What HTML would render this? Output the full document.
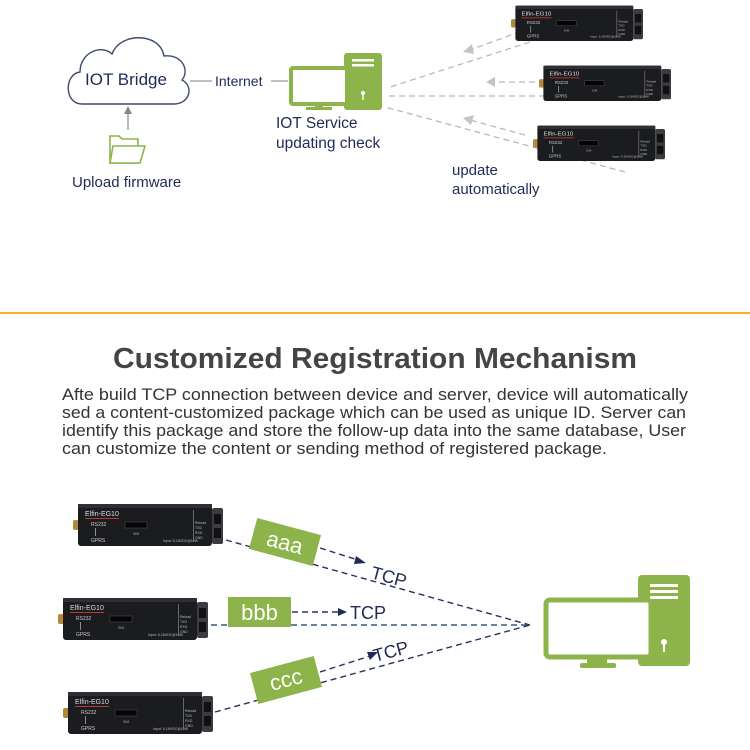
<!DOCTYPE html>
<html><head><meta charset="utf-8"><style>
html,body{margin:0;padding:0;background:#fff;width:750px;height:750px;overflow:hidden}
svg{display:block}
text{font-family:"Liberation Sans",Arial,sans-serif}
</style></head><body>
<svg width="750" height="750" viewBox="0 0 750 750" xmlns="http://www.w3.org/2000/svg">
<defs>
<g id="dev">
  <rect x="0" y="18" width="6" height="10" rx="2" fill="#b08a3a"/>
  <rect x="5" y="2" width="134" height="42" rx="3" fill="#1b1c20"/>
  <rect x="5" y="2" width="134" height="4" fill="#2e3036"/>
  <rect x="139" y="6" width="11" height="36" rx="2" fill="#3a3c42"/>
  <rect x="141" y="12" width="7" height="10" fill="#111"/>
  <rect x="141" y="26" width="7" height="10" fill="#111"/>
  <text x="12" y="14" font-size="7" fill="#ddd">Elfin-EG10</text>
  <rect x="12" y="16" width="34" height="1" fill="#c0392b"/>
  <text x="18" y="24" font-size="5" fill="#ccc">RS232</text>
  <rect x="22" y="26" width="0.8" height="8" fill="#aaa"/>
  <text x="18" y="40" font-size="5" fill="#ccc">GPRS</text>
  <rect x="52" y="20" width="22" height="6" fill="#050505" stroke="#555" stroke-width="0.5"/>
  <text x="60" y="33" font-size="3.5" fill="#aaa">SIM</text>
  <text x="90" y="40" font-size="3.5" fill="#bbb">Input: 5-18VDC@10W</text>
  <rect x="120" y="8" width="0.6" height="32" fill="#999"/>
  <text x="122" y="22" font-size="3.5" fill="#bbb">Reload</text>
  <text x="122" y="27" font-size="3.5" fill="#bbb">TXD</text>
  <text x="122" y="32" font-size="3.5" fill="#bbb">RXD</text>
  <text x="122" y="37" font-size="3.5" fill="#bbb">GND</text>
</g>
</defs>

<!-- TOP SECTION -->
<path d="M82,104 C64,104 64,74 80,72 C80,52 102,44 112,54 C120,32 160,32 164,56 C182,54 190,70 182,80 C194,86 190,104 174,104 Z" fill="#fff" stroke="#3d4a6b" stroke-width="1.4"/>
<text x="126" y="85" font-size="17" fill="#1f2a55" text-anchor="middle">IOT Bridge</text>
<line x1="190" y1="81" x2="212" y2="81" stroke="#999" stroke-width="1.2"/>
<text x="215" y="86" font-size="14" fill="#1f2a55">Internet</text>
<line x1="271" y1="81" x2="288" y2="81" stroke="#999" stroke-width="1.2"/>
<rect x="344" y="53" width="38" height="57" rx="3" fill="#8db34b"/>
<rect x="352" y="59" width="22" height="2.5" fill="#fff"/>
<rect x="352" y="64" width="22" height="2.5" fill="#fff"/>
<circle cx="363" cy="93" r="2" fill="#fff"/><rect x="362.3" y="93" width="1.4" height="7" fill="#fff"/>
<rect x="291" y="68" width="56" height="36" rx="2" fill="#fff" stroke="#8db34b" stroke-width="4"/>
<rect x="315" y="104" width="8" height="4" fill="#8db34b"/>
<rect x="306" y="107" width="26" height="3" fill="#8db34b"/>
<text x="276" y="128" font-size="15.5" fill="#1f2a55">IOT Service</text>
<text x="276" y="148" font-size="15.5" fill="#1f2a55">updating check</text>
<line x1="128" y1="130" x2="128" y2="112" stroke="#888" stroke-width="1.2"/>
<path d="M124,114 L128,106 L132,114 Z" fill="#888"/>
<path d="M110,136 L119,136 L122,139 L138,139 L138,163 L110,163 Z" fill="#fff" stroke="#8db34b" stroke-width="1.6"/>
<path d="M110,163 L113,146 L145,146 L140,163 Z" fill="#fff" stroke="#8db34b" stroke-width="1.6"/>
<text x="72" y="187" font-size="15" fill="#1f2a55">Upload firmware</text>
<g stroke="#b8b8b8" stroke-width="1.3" stroke-dasharray="6,4" fill="none">
  <line x1="530" y1="28" x2="470" y2="50"/>
  <line x1="530" y1="42" x2="387" y2="88"/>
  <line x1="545" y1="82" x2="492" y2="82"/>
  <line x1="545" y1="96" x2="385" y2="96"/>
  <line x1="525" y1="135" x2="470" y2="120"/>
  <line x1="625" y1="172" x2="385" y2="107"/>
</g>
<path d="M463,52 L472,44 L474,54 Z" fill="#c4c4c4"/>
<path d="M486,82 L495,77 L495,87 Z" fill="#c4c4c4"/>
<path d="M463,118 L474,115 L471,125 Z" fill="#c4c4c4"/>
<use href="#dev" transform="translate(511,4) scale(0.88,0.84)"/>
<use href="#dev" transform="translate(539,64) scale(0.88,0.84)"/>
<use href="#dev" transform="translate(533,124) scale(0.88,0.84)"/>
<text x="452" y="175" font-size="15" fill="#1f2a55">update</text>
<text x="452" y="194" font-size="15" fill="#1f2a55">automatically</text>

<rect x="0" y="312" width="750" height="2" fill="#f0b323"/>

<text x="375" y="368" font-size="28.5" font-weight="bold" fill="#444" text-anchor="middle" textLength="524" lengthAdjust="spacingAndGlyphs">Customized Registration Mechanism</text>
<g font-size="16.5" fill="#333">
<text x="62" y="400" textLength="626" lengthAdjust="spacingAndGlyphs">Afte build TCP connection between device and server, device will automatically</text>
<text x="62" y="418" textLength="624" lengthAdjust="spacingAndGlyphs">sed a content-customized package which can be used as unique ID. Server can</text>
<text x="62" y="436" textLength="624" lengthAdjust="spacingAndGlyphs">identify this package and store the follow-up data into the same database, User</text>
<text x="62" y="454" textLength="545" lengthAdjust="spacingAndGlyphs">can customize the content or sending method of registered package.</text>
</g>

<g stroke="#2a3060" stroke-width="1.4" stroke-dasharray="6,4" fill="none">
  <line x1="226" y1="540" x2="530" y2="625"/>
  <line x1="211" y1="625" x2="530" y2="625" stroke="#3a5a80"/>
  <line x1="215" y1="712" x2="530" y2="625"/>
  <line x1="320" y1="548" x2="358" y2="560"/>
  <line x1="292" y1="612" x2="340" y2="612"/>
  <line x1="320" y1="672" x2="370" y2="656"/>
</g>
<path d="M356,556 L366,563 L354,564 Z" fill="#1f2a55"/>
<path d="M338,608 L347,612 L338,616 Z" fill="#1f2a55"/>
<path d="M367,652 L378,652 L370,660 Z" fill="#1f2a55"/>
<g font-size="18" fill="#1f2a55">
  <text x="370" y="578" transform="rotate(15 370 578)">TCP</text>
  <text x="350" y="619">TCP</text>
  <text x="375" y="662" transform="rotate(-15 375 662)">TCP</text>
</g>
<g transform="translate(285,542) rotate(15)">
  <rect x="-33" y="-16" width="66" height="32" fill="#8db34b"/>
  <text x="0" y="8" font-size="22" fill="#fff" text-anchor="middle">aaa</text>
</g>
<rect x="228" y="597" width="63" height="30" fill="#8db34b"/>
<text x="259.5" y="620" font-size="22" fill="#fff" text-anchor="middle">bbb</text>
<g transform="translate(286,680) rotate(-15)">
  <rect x="-33" y="-16" width="66" height="32" fill="#8db34b"/>
  <text x="0" y="7" font-size="22" fill="#fff" text-anchor="middle">ccc</text>
</g>
<use href="#dev" transform="translate(73,502)"/>
<use href="#dev" transform="translate(58,596)"/>
<use href="#dev" transform="translate(63,690)"/>
<rect x="638" y="575" width="52" height="91" rx="4" fill="#8db34b"/>
<rect x="650" y="584" width="28" height="3" fill="#fff"/>
<rect x="650" y="590" width="28" height="3" fill="#fff"/>
<rect x="650" y="596" width="28" height="3" fill="#fff"/>
<circle cx="664" cy="642" r="3" fill="#fff"/><rect x="663" y="642" width="2" height="10" fill="#fff"/>
<rect x="546" y="600" width="105" height="57" rx="4" fill="#fff" stroke="#8db34b" stroke-width="5"/>
<rect x="587" y="659" width="20" height="6" fill="#8db34b"/>
<rect x="580" y="663" width="36" height="5" rx="2" fill="#8db34b"/>
</svg>
</body></html>
